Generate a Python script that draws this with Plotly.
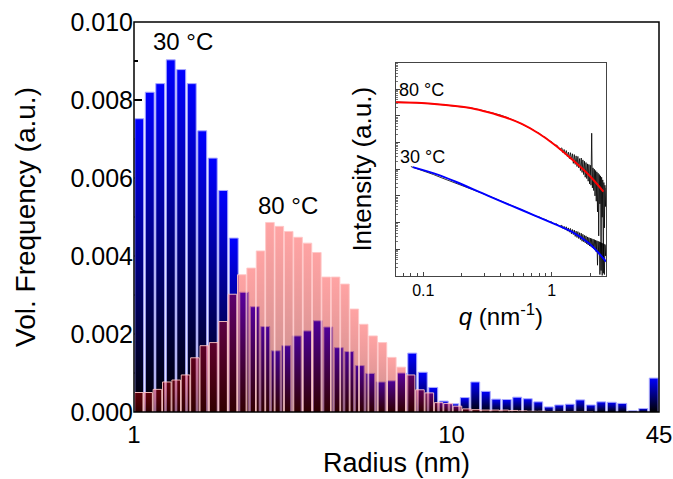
import numpy as np
import plotly.graph_objects as go

# ---------------- data ----------------
radius_min = 1.0
radius_max = 45.0

# volume-frequency histograms, log-spaced bins between radius_min and radius_max
vol_freq_30C = [
    0.00752, 0.00820, 0.00842, 0.00903, 0.00878, 0.00842, 0.00721, 0.00651, 0.00568, 0.00446,
    0.00307, 0.00270, 0.00219, 0.00157, 0.00170, 0.00195, 0.00208, 0.00234, 0.00218, 0.00165,
    0.00155, 0.00119, 0.00099, 0.00077, 0.00080, 0.00100, 0.00151, 0.00102, 0.00063, 0.00028,
    0.00021, 0.00037, 0.00077, 0.00053, 0.00033, 0.00032, 0.00038, 0.00034, 0.00026, 0.00013,
    0.00018, 0.00020, 0.00031, 0.00018, 0.00026, 0.00025, 0.00022, 0.00003, 0.00009, 0.00087,
]
vol_freq_80C = [
    0.00050, 0.00050, 0.00058, 0.00077, 0.00082, 0.00095, 0.00139, 0.00170, 0.00178, 0.00232,
    0.00302, 0.00352, 0.00369, 0.00413, 0.00486, 0.00476, 0.00463, 0.00448, 0.00433, 0.00409,
    0.00346, 0.00346, 0.00328, 0.00264, 0.00225, 0.00195, 0.00178, 0.00140, 0.00115, 0.00095,
    0.00057, 0.00049, 0.00024, 0.00022, 0.00015, 0.00008, 0.00006, 0.00005, 0.00005, 0.00005,
    0.00004, 0.00003, 0.00002, 0.00002, 0.00001, 0.00001, 0.00001, 0.00001, 0.00001, 0.0,
    0.0, 0.0, 0.0, 0.0, 0.0, 0.0,
]
x_tick_vals = [1, 10, 45]
x_tick_text = ["1", "10", "45"]
y_tick_vals = [0.000, 0.002, 0.004, 0.006, 0.008, 0.010]

# inset: SAXS curves (intensity given in log10 units, a.u.)
q_fit_80C = [0.0612, 0.097, 0.177, 0.238, 0.321, 0.434, 0.585, 0.788, 1.06, 1.43, 1.94, 2.53]
logI_fit_80C = [6.51, 6.48, 6.37, 6.29, 6.14, 5.95, 5.70, 5.35, 4.91, 4.38, 3.79, 3.16]
q_fit_30C = [0.0827, 0.131, 0.177, 0.321, 0.585, 1.06, 1.43, 1.94, 2.65]
logI_fit_30C = [4.08, 3.79, 3.54, 3.00, 2.47, 1.94, 1.66, 1.23, 0.54]

q_data_80C = [
    0.062, 0.07, 0.08, 0.09, 0.1, 0.12, 0.14, 0.17, 0.2, 0.24, 0.28, 0.33, 0.4, 0.47, 0.55, 0.65,
    0.70, 0.75, 0.80, 0.85, 0.90, 0.95, 1.00, 1.05, 1.10, 1.15,
    1.200, 1.225, 1.250, 1.275, 1.300, 1.325, 1.350, 1.375, 1.400, 1.425,
    1.450, 1.475, 1.500, 1.525, 1.550, 1.575, 1.600, 1.625, 1.650, 1.675,
    1.700, 1.725, 1.750, 1.775, 1.800, 1.825, 1.850, 1.875, 1.900, 1.925,
    1.950, 1.975, 2.000, 2.025, 2.050, 2.075, 2.100, 2.125, 2.150, 2.175,
    2.200, 2.225, 2.250, 2.275, 2.300, 2.325, 2.350, 2.375, 2.400, 2.425,
    2.450, 2.475, 2.500, 2.525, 2.550, 2.575, 2.600, 2.625, 2.650,
]
logI_data_80C = [
    6.52, 6.50, 6.50, 6.49, 6.48, 6.45, 6.42, 6.38, 6.34, 6.29, 6.22, 6.13, 6.03, 5.90, 5.76, 5.58,
    5.51, 5.41, 5.35, 5.24, 5.19, 5.07, 5.03, 4.90, 4.90, 4.74,
    4.80, 4.62, 4.74, 4.56, 4.70, 4.48, 4.64, 4.40, 4.62, 4.35,
    4.58, 4.22, 4.55, 4.18, 4.50, 4.10, 4.48, 4.05, 4.40, 3.95,
    4.42, 3.88, 4.35, 3.80, 4.30, 3.70, 4.25, 3.65, 4.20, 3.55,
    4.18, 3.45, 4.15, 3.40, 5.35, 3.30, 4.05, 3.20, 4.00, 3.00,
    3.95, 2.80, 3.90, 2.40, 3.85, 1.50, 3.80, 2.70, 3.75, 0.20,
    3.70, 2.20, 3.60, 0.10, 3.50, 1.80, 3.40, 2.60, 3.30,
]
q_data_30C = [
    0.08, 0.09, 0.1, 0.12, 0.14, 0.17, 0.2, 0.24, 0.28, 0.33, 0.4, 0.47, 0.55, 0.65,
    0.70, 0.75, 0.80, 0.85, 0.90, 0.95, 1.00, 1.05, 1.10, 1.15,
    1.200, 1.225, 1.250, 1.275, 1.300, 1.325, 1.350, 1.375, 1.400, 1.425,
    1.450, 1.475, 1.500, 1.525, 1.550, 1.575, 1.600, 1.625, 1.650, 1.675,
    1.700, 1.725, 1.750, 1.775, 1.800, 1.825, 1.850, 1.875, 1.900, 1.925,
    1.950, 1.975, 2.000, 2.025, 2.050, 2.075, 2.100, 2.125, 2.150, 2.175,
    2.200, 2.225, 2.250, 2.275, 2.300, 2.325, 2.350, 2.375, 2.400, 2.425,
    2.450, 2.475, 2.500, 2.525, 2.550, 2.575, 2.600, 2.625, 2.650,
]
logI_data_30C = [
    4.10, 4.02, 3.94, 3.80, 3.67, 3.52, 3.40, 3.25, 3.12, 2.98, 2.82, 2.68, 2.53, 2.38,
    2.31, 2.24, 2.21, 2.14, 2.11, 2.04, 2.02, 1.94, 1.95, 1.85,
    1.90, 1.78, 1.86, 1.74, 1.84, 1.68, 1.80, 1.64, 1.78, 1.58,
    1.74, 1.55, 1.72, 1.48, 1.68, 1.44, 1.66, 1.40, 1.62, 1.36,
    1.60, 1.30, 1.56, 1.28, 1.52, 1.24, 1.50, 1.20, 1.46, 1.16,
    1.44, 1.12, 1.42, 1.10, 1.40, 1.05, 1.38, 1.02, 1.36, 0.98,
    1.34, 0.90, 1.32, 0.40, 1.30, 0.85, 1.28, 0.05, 1.26, 0.80,
    1.24, 0.02, 1.22, 0.70, 1.20, 0.05, 1.18, 0.75, 1.15,
]

# ---------------- styling ----------------
FONT = "Liberation Sans, Arial, sans-serif"
blue_grad = [[0.0, "rgb(0,0,0)"], [1.0, "rgb(0,0,255)"]]
pink_grad = [[0.0, "rgba(110,0,0,0.45)"], [1.0, "rgba(255,0,0,0.36)"]]

fig = go.Figure()


def add_hist(values, grad, outline, shrink_dec):
    n = len(values)
    edges = np.logspace(np.log10(radius_min), np.log10(radius_max), n + 1)
    for v, lo, hi in zip(values, edges[:-1], edges[1:]):
        if v <= 0:
            continue
        left = lo * 10 ** shrink_dec
        right = hi / 10 ** shrink_dec
        fig.add_trace(go.Scatter(
            x=[left, left, right, right], y=[0, v, v, 0],
            mode="lines", fill="toself",
            fillgradient=dict(type="vertical", colorscale=grad),
            line=dict(color=outline, width=1),
            hoverinfo="skip", showlegend=False, xaxis="x", yaxis="y"))


add_hist(vol_freq_30C, blue_grad, "rgba(170,170,255,1)", 0.0025)
add_hist(vol_freq_80C, pink_grad, "rgba(255,200,200,0.9)", 0.0012)

# inset traces
for qs, logs in ((q_data_80C, logI_data_80C), (q_data_30C, logI_data_30C)):
    fig.add_trace(go.Scatter(x=qs, y=[10 ** v for v in logs], mode="lines",
                             line=dict(color="rgba(0,0,0,0.8)", width=1), showlegend=False,
                             hoverinfo="skip", xaxis="x2", yaxis="y2"))
fig.add_trace(go.Scatter(x=q_fit_80C, y=[10 ** v for v in logI_fit_80C], mode="lines",
                         line=dict(color="#ff0000", width=2, shape="spline"), showlegend=False,
                         xaxis="x2", yaxis="y2"))
fig.add_trace(go.Scatter(x=q_fit_30C, y=[10 ** v for v in logI_fit_30C], mode="lines",
                         line=dict(color="#0000ff", width=2, shape="spline"), showlegend=False,
                         xaxis="x2", yaxis="y2"))

inset_minor_y = [k * 10 ** n for n in range(0, 8) for k in (2, 3, 4, 5, 6, 7, 8, 9)]

fig.update_layout(
    width=673, height=479,
    margin=dict(l=134, r=14, t=22, b=67, autoexpand=False),
    paper_bgcolor="white", plot_bgcolor="white",
    font=dict(family=FONT, color="black"),
    xaxis=dict(
        type="log", range=[np.log10(radius_min), np.log10(radius_max)],
        tickvals=x_tick_vals, ticktext=x_tick_text, automargin=False,
        ticks="", showgrid=False, zeroline=False, showline=False,
        tickfont=dict(size=24), layer="below traces", ticklabelstandoff=6,
        title=dict(text="Radius (nm)", font=dict(size=27), standoff=0),
    ),
    yaxis=dict(
        range=[0, 0.0100001], tickvals=y_tick_vals, tickformat=".3f", automargin=False,
        ticks="inside", ticklen=8, tickwidth=1.5, tickcolor="black",
        minor=dict(ticks="inside", ticklen=4, tickwidth=1.5, dtick=0.001, tickcolor="black"),
        showgrid=False, zeroline=False, showline=False,
        tickfont=dict(size=25), layer="below traces", ticklabelstandoff=0,
        title=dict(text="Vol. Frequency (a.u.)", font=dict(size=28), standoff=26),
    ),
    xaxis2=dict(
        type="log", range=[-1.213, 0.423], domain=[0.499, 0.899], anchor="y2",
        tickvals=[0.1, 1], ticktext=["0.1", "1"], automargin=False,
        ticks="inside", ticklen=4, tickcolor="#444",
        minor=dict(ticks="inside", ticklen=2.5, tickcolor="#444",
                   tickvals=[0.07, 0.08, 0.09, 0.2, 0.3, 0.4, 0.5, 0.6, 0.7, 0.8, 0.9, 2]),
        showline=True, linecolor="#444", linewidth=1, mirror=True,
        showgrid=False, zeroline=False, tickfont=dict(size=16),
        title=dict(text="<i>q</i> (nm<sup>-1</sup>)", font=dict(size=24), standoff=10),
    ),
    yaxis2=dict(
        type="log", range=[0, 8], domain=[0.349, 0.896], anchor="x2",
        dtick=1, showticklabels=False, automargin=False,
        ticks="inside", ticklen=4, tickcolor="#444",
        minor=dict(ticks="inside", ticklen=2, tickcolor="#777", tickvals=inset_minor_y),
        showline=True, linecolor="#444", linewidth=1, mirror=True,
        showgrid=False, zeroline=False,
        title=dict(text="Intensity (a.u.)", font=dict(size=26), standoff=15),
    ),
    shapes=[dict(type="rect", xref="paper", yref="paper", x0=0, x1=1, y0=0, y1=1,
                 line=dict(color="black", width=1.5), layer="above")],
    annotations=[
        dict(x=np.log10(1.43), y=0.0095, xref="x", yref="y", text="30 °C", showarrow=False,
             font=dict(size=24)),
        dict(x=np.log10(3.05), y=0.00529, xref="x", yref="y", text="80 °C", showarrow=False,
             font=dict(size=24)),
        dict(x=-1.013, y=6.97, xref="x2", yref="y2", text="80 °C", showarrow=False,
             font=dict(size=18)),
        dict(x=-1.005, y=4.45, xref="x2", yref="y2", text="30 °C", showarrow=False,
             font=dict(size=18)),
    ],
)

# remove the browser's default 8 px page margin so the figure fills the window exactly
fig.write_html("out.html",
               config={"displayModeBar": False, "staticPlot": False},
               post_script="document.body.style.margin='0px';"
                           "document.body.style.overflow='hidden';")
